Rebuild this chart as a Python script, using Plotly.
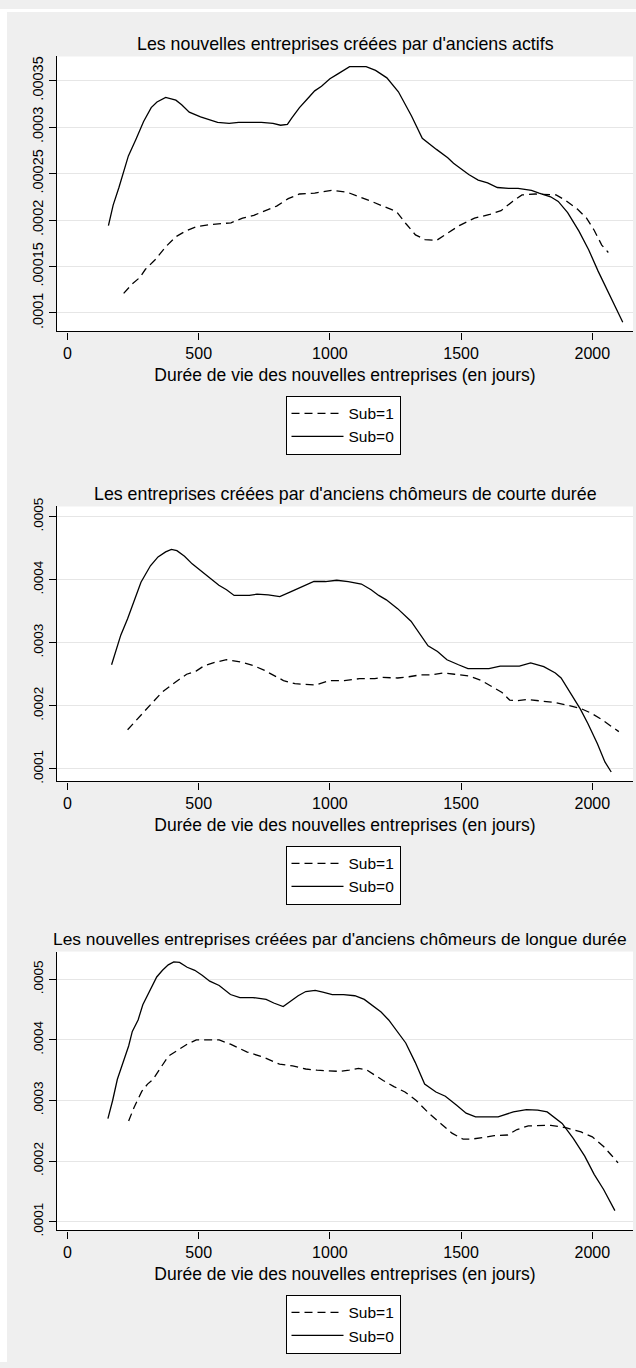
import plotly.graph_objects as go

# ---------------- data ----------------
titles = [
    "Les nouvelles entreprises créées par d'anciens actifs",
    "Les entreprises créées par d'anciens chômeurs de courte durée",
    "Les nouvelles entreprises créées par d'anciens chômeurs de longue durée",
]
x_title = "Durée de vie des nouvelles entreprises (en jours)"
series_names = ["Sub=1", "Sub=0"]

# Panel 1 : anciens actifs
p1_sub0_x = [156, 174, 196, 232, 261, 290, 319, 341, 374, 413, 435, 464, 507, 543, 572, 616, 652, 739, 783, 812, 838, 855, 884, 913, 942, 968, 1000, 1029, 1051, 1075, 1138, 1174, 1217, 1261, 1311, 1352, 1406, 1449, 1471, 1500, 1529, 1565, 1601, 1638, 1681, 1717, 1768, 1797, 1841, 1870, 1906, 1949, 1986, 2022, 2058, 2080, 2116]
p1_sub0_y = [0.000194, 0.000216, 0.000235, 0.000269, 0.000287, 0.000306, 0.000321, 0.000327, 0.000332, 0.000329, 0.000324, 0.000316, 0.000311, 0.000308, 0.000305, 0.000304, 0.000305, 0.000305, 0.000304, 0.000302, 0.000303, 0.000310, 0.000321, 0.000330, 0.000339, 0.000344, 0.000352, 0.000357, 0.000361, 0.000365, 0.000365, 0.000361, 0.000353, 0.000338, 0.000312, 0.000288, 0.000276, 0.000267, 0.000261, 0.000255, 0.000249, 0.000243, 0.000240, 0.000235, 0.000234, 0.000234, 0.000232, 0.000229, 0.000225, 0.000220, 0.000208, 0.000188, 0.000168, 0.000145, 0.000124, 0.000110, 0.000090]
p1_sub1_x = [214, 246, 275, 297, 333, 377, 413, 449, 493, 543, 623, 667, 710, 754, 797, 841, 884, 942, 1007, 1065, 1116, 1159, 1210, 1254, 1290, 1326, 1362, 1406, 1449, 1493, 1551, 1609, 1652, 1696, 1732, 1783, 1862, 1899, 1942, 1978, 2007, 2036, 2061]
p1_sub1_y = [0.000121, 0.000131, 0.000138, 0.000147, 0.000157, 0.000172, 0.000182, 0.000188, 0.000193, 0.000195, 0.000197, 0.000202, 0.000205, 0.000210, 0.000215, 0.000223, 0.000228, 0.000229, 0.000232, 0.000230, 0.000225, 0.000220, 0.000214, 0.000209, 0.000196, 0.000184, 0.000179, 0.000178, 0.000186, 0.000194, 0.000202, 0.000206, 0.000210, 0.000220, 0.000227, 0.000228, 0.000227, 0.000221, 0.000212, 0.000202, 0.000189, 0.000173, 0.000165]

# Panel 2 : chômeurs de courte durée
p2_sub0_x = [168, 186, 203, 229, 251, 280, 316, 345, 374, 396, 417, 446, 475, 504, 541, 577, 606, 635, 693, 722, 765, 809, 852, 896, 939, 983, 1026, 1070, 1120, 1157, 1186, 1215, 1258, 1309, 1338, 1374, 1410, 1446, 1490, 1526, 1606, 1649, 1722, 1765, 1815, 1859, 1881, 1917, 1954, 1983, 2019, 2048, 2072]
p2_sub0_y = [0.000265, 0.000291, 0.000312, 0.000338, 0.000362, 0.000396, 0.000422, 0.000436, 0.000444, 0.000448, 0.000446, 0.000437, 0.000425, 0.000415, 0.000402, 0.000391, 0.000384, 0.000375, 0.000375, 0.000377, 0.000376, 0.000373, 0.000381, 0.000389, 0.000397, 0.000397, 0.000399, 0.000397, 0.000393, 0.000384, 0.000375, 0.000368, 0.000354, 0.000334, 0.000317, 0.000295, 0.000286, 0.000273, 0.000265, 0.000259, 0.000259, 0.000263, 0.000263, 0.000268, 0.000262, 0.000252, 0.000244, 0.000220, 0.000195, 0.000172, 0.000140, 0.000111, 0.000095]
p2_sub1_x = [229, 272, 316, 359, 403, 454, 490, 519, 562, 606, 664, 707, 751, 787, 823, 867, 910, 946, 997, 1055, 1113, 1171, 1200, 1258, 1301, 1345, 1388, 1432, 1475, 1533, 1577, 1613, 1656, 1685, 1714, 1751, 1801, 1859, 1903, 1954, 1997, 2033, 2070, 2101]
p2_sub1_y = [0.000162, 0.000181, 0.000202, 0.000221, 0.000235, 0.000250, 0.000255, 0.000263, 0.000269, 0.000273, 0.000269, 0.000264, 0.000256, 0.000248, 0.000240, 0.000235, 0.000234, 0.000233, 0.000240, 0.000240, 0.000243, 0.000243, 0.000245, 0.000244, 0.000246, 0.000249, 0.000249, 0.000252, 0.000250, 0.000247, 0.000240, 0.000231, 0.000221, 0.000209, 0.000208, 0.000210, 0.000208, 0.000205, 0.000201, 0.000196, 0.000188, 0.000179, 0.000168, 0.000159]

# Panel 3 : chômeurs de longue durée
p3_sub0_x = [154, 172, 190, 211, 233, 247, 269, 287, 319, 340, 362, 384, 405, 427, 456, 485, 513, 542, 578, 621, 657, 707, 757, 786, 822, 851, 879, 908, 944, 973, 1009, 1052, 1095, 1131, 1159, 1195, 1224, 1260, 1289, 1325, 1361, 1404, 1440, 1483, 1519, 1555, 1641, 1699, 1749, 1792, 1828, 1885, 1928, 1971, 2007, 2043, 2065, 2086]
p3_sub0_y = [0.000270, 0.000300, 0.000335, 0.000362, 0.000390, 0.000414, 0.000433, 0.000458, 0.000485, 0.000504, 0.000515, 0.000524, 0.000529, 0.000528, 0.000520, 0.000515, 0.000507, 0.000497, 0.000490, 0.000475, 0.000470, 0.000470, 0.000467, 0.000461, 0.000455, 0.000464, 0.000473, 0.000480, 0.000482, 0.000479, 0.000475, 0.000475, 0.000473, 0.000467, 0.000458, 0.000446, 0.000433, 0.000411, 0.000395, 0.000363, 0.000327, 0.000314, 0.000307, 0.000292, 0.000279, 0.000273, 0.000273, 0.000281, 0.000285, 0.000284, 0.000281, 0.000262, 0.000237, 0.000208, 0.000178, 0.000153, 0.000134, 0.000118]
p3_sub1_x = [233, 254, 283, 305, 326, 348, 384, 420, 456, 491, 578, 621, 649, 685, 750, 808, 858, 908, 951, 1037, 1073, 1109, 1138, 1166, 1203, 1244, 1286, 1329, 1379, 1422, 1465, 1508, 1537, 1588, 1626, 1677, 1713, 1756, 1799, 1842, 1899, 1957, 2000, 2043, 2072, 2098]
p3_sub1_y = [0.000266, 0.000289, 0.000315, 0.000327, 0.000335, 0.000350, 0.000373, 0.000383, 0.000393, 0.000400, 0.000400, 0.000393, 0.000387, 0.000380, 0.000371, 0.000360, 0.000357, 0.000352, 0.000350, 0.000348, 0.000350, 0.000353, 0.000351, 0.000343, 0.000333, 0.000323, 0.000314, 0.000300, 0.000278, 0.000262, 0.000246, 0.000236, 0.000236, 0.000239, 0.000242, 0.000243, 0.000252, 0.000258, 0.000259, 0.000259, 0.000255, 0.000248, 0.000240, 0.000224, 0.000210, 0.000197]

x_tickvals = [0, 500, 1000, 1500, 2000]
x_ticktext = ["0", "500", "1000", "1500", "2000"]
p1_ytickvals = [0.0001, 0.00015, 0.0002, 0.00025, 0.0003, 0.00035]
p1_yticktext = [".0001", ".00015", ".0002", ".00025", ".0003", ".00035"]
p2_ytickvals = [0.0001, 0.0002, 0.0003, 0.0004, 0.0005]
p2_yticktext = [".0001", ".0002", ".0003", ".0004", ".0005"]
p3_ytickvals = [0.0001, 0.0002, 0.0003, 0.0004, 0.0005]
p3_yticktext = [".0001", ".0002", ".0003", ".0004", ".0005"]

# ---------------- layout / style ----------------
W, H = 636, 1368
FONT = "Liberation Sans, Arial, sans-serif"
FS_TITLE = [17.8, 17.8, 17.4]
TITLE_XC = [345, 345, 340]
FS_AXT = 17.5
FS_XTICK = 16
FS_YTICK = [14.5, 13.5, 13.5]
FS_LEG = 15.5
BG = "#EFEFEF"
GRID = "#E6E6E6"

# plot regions in pixels: (top, bottom)
regions = [(48, 326), (503, 781), (953, 1235)]
x_left, x_right = 57, 633
yranges = [[0.0000801, 0.000376], [0.0000800, 0.000516], [0.0000853, 0.000546]]
xrange_ = [-40, 2155]

panels = [
    (p1_sub1_x, p1_sub1_y, p1_sub0_x, p1_sub0_y, p1_ytickvals, p1_yticktext),
    (p2_sub1_x, p2_sub1_y, p2_sub0_x, p2_sub0_y, p2_ytickvals, p2_yticktext),
    (p3_sub1_x, p3_sub1_y, p3_sub0_x, p3_sub0_y, p3_ytickvals, p3_yticktext),
]

fig = go.Figure()
layout = dict(
    width=W, height=H,
    margin=dict(l=0, r=0, t=0, b=0),
    paper_bgcolor=BG, plot_bgcolor="white",
    font=dict(family=FONT, size=FS_XTICK, color="black"),
    showlegend=True,
    annotations=[], shapes=[],
)

for i, (x1, y1, x0, y0, ytv, ytt) in enumerate(panels):
    n = "" if i == 0 else str(i + 1)
    leg = "legend" + n
    top, bot = regions[i]
    fig.add_trace(go.Scatter(
        x=x1, y=y1, mode="lines", name=series_names[0],
        line=dict(color="black", width=1.3, dash="8px,5px"),
        xaxis="x" + n, yaxis="y" + n, legend=leg, hoverinfo="skip"))
    fig.add_trace(go.Scatter(
        x=x0, y=y0, mode="lines", name=series_names[1],
        line=dict(color="black", width=1.3),
        xaxis="x" + n, yaxis="y" + n, legend=leg, hoverinfo="skip"))

    layout["xaxis" + n] = dict(
        domain=[x_left / W, x_right / W], range=xrange_, anchor="y" + n,
        tickvals=x_tickvals, ticktext=x_ticktext,
        ticks="outside", ticklen=7, tickwidth=1.2, tickcolor="black",
        showline=True, linecolor="black", linewidth=1.3,
        showgrid=False, zeroline=False,
        tickfont=dict(size=FS_XTICK),
        title=dict(text=x_title, font=dict(size=FS_AXT), standoff=7),
    )
    layout["yaxis" + n] = dict(
        domain=[1 - bot / H, 1 - top / H], range=yranges[i], anchor="x" + n,
        tickvals=ytv, ticktext=ytt, tickangle=-90,
        ticks="outside", ticklen=7, tickwidth=1.2, tickcolor="black",
        showline=True, linecolor="black", linewidth=1.3,
        showgrid=True, gridcolor=GRID, gridwidth=1, zeroline=False,
        tickfont=dict(size=FS_YTICK[i]),
    )
    layout[leg] = dict(
        x=343 / W, xanchor="center", y=1 - (bot + 65) / H, yanchor="top",
        bgcolor="white", bordercolor="black", borderwidth=1,
        font=dict(size=FS_LEG), traceorder="normal",
        tracegroupgap=0, itemwidth=52,
    )
    layout["annotations"].append(dict(
        text=titles[i], xref="paper", yref="paper",
        x=TITLE_XC[i] / W, y=1 - (top - 13) / H, xanchor="center", yanchor="middle",
        showarrow=False, font=dict(size=FS_TITLE[i])))

# white outer border strips (left and top) like the reference
layout["shapes"] = [
    dict(type="rect", xref="paper", yref="paper", x0=0, x1=7 / W, y0=0, y1=1,
         fillcolor="white", line=dict(width=0), layer="above"),
    dict(type="rect", xref="paper", yref="paper", x0=0, x1=1, y0=1 - 3 / H, y1=1,
         fillcolor="white", line=dict(width=0), layer="above"),
]

fig.update_layout(**layout)
fig.write_html("out.html", config={"displayModeBar": False})

# remove the default page margin so the figure sits at the window origin
with open("out.html", "r", encoding="utf-8") as f:
    html = f.read()
html = html.replace(
    "<head>",
    "<head><style>html,body{margin:0;padding:0;overflow:hidden;}</style>", 1)
with open("out.html", "w", encoding="utf-8") as f:
    f.write(html)
